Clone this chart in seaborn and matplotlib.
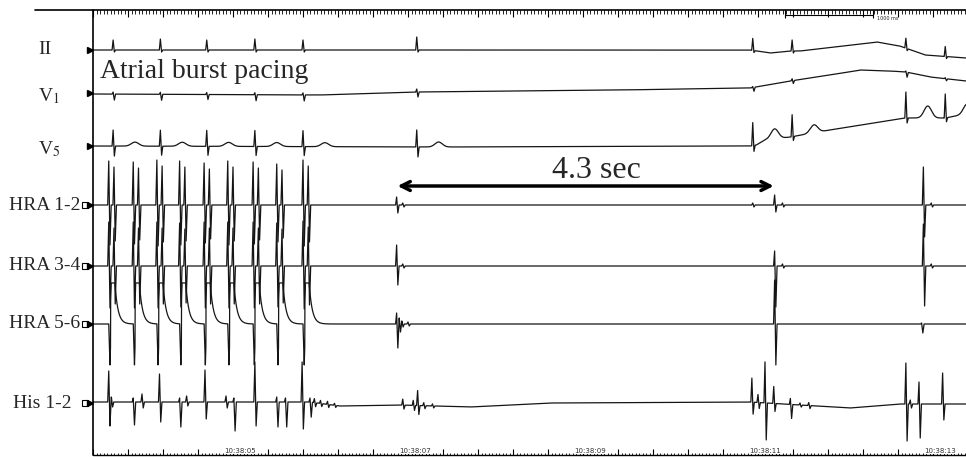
import numpy as np
import matplotlib
matplotlib.use("Agg")
import matplotlib.pyplot as plt
import seaborn as sns

# ========== DATA ==========
# times are seconds after 10:38:00, deflections in trace units (up = positive)
pace_times = [3.50, 3.78, 4.05, 4.31, 4.59, 4.86, 5.15, 5.42, 5.72]

# surface ECG beats
qrs_times = [3.55, 4.09, 4.62, 5.17, 5.72, 7.02, 10.86, 11.31, 12.61, 13.06]
ii_r = [10, 11, 10, 11, 10, 13, 12, 11, 10, 10]
ii_s = [2, 2, 2, 2, 2, 2, 2, 2, 2, 2]
v1_r = [2, 2, 2, 2, 2, 3, 1, 2, 1, 1]
v1_s = [6, 6, 5, 6, 6, 5, 4, 3, 5, 2]
v5_r = [16, 16, 16, 16, 16, 17, 23, 22, 26, 24]
v5_s = [10, 9, 9, 9, 9, 10, 6, 4, 5, 4]
v5_t = [4, 4, 4, 4, 4, 5, 10, 8, 12, 10]

# baseline drift (knot times, offsets)
ii_drift_t = [3.32, 10.83, 11.06, 11.29, 11.40, 12.28, 12.54, 12.83, 13.30]
ii_drift = [0, 0, -3, -1, -1, 8, 4, -5, -8]
v1_drift_t = [3.32, 5.91, 7.03, 9.34, 10.83, 11.29, 11.74, 12.09, 12.43, 12.61, 12.89, 13.30]
v1_drift = [-1, -2, 1, 3, 5, 12, 18, 23, 22, 21, 16, 12]
v5_drift_t = [3.32, 7.29, 10.83, 10.90, 11.00, 11.29, 11.74, 12.60, 13.06, 13.30]
v5_drift = [0, -1, 0, 1, 6, 9, 16, 28, 28, 32]
his_drift_t = [3.32, 5.80, 6.14, 6.83, 7.63, 8.54, 10.83, 11.40, 11.97, 12.54, 13.30]
his_drift = [1, 1, -3, -2, -4, 0, 1, -2, -5, -1, -1]

# intracardiac: pacing artefact + local electrogram per stimulus
hra12_pace = [44, 43, 45, 44, 42, 44, 43, 41, 45]
hra34_pace = [44, 44, 44, 43, 44, 44, 44, 43, 45]
hra56_pulse = [41, 41, 41, 41, 41, 41, 41, 41, 41]
hra56_stim = [41, 41, 41, 41, 41, 41, 41, 41, 41]

# intracardiac spontaneous / post-pacing deflections
hra12_t = [6.79, 6.86, 10.86, 11.11, 11.20, 12.81, 12.90]
hra12_up = [8, 2, 2, 10, 2, 38, 2]
hra12_dn = [8, 2, 2, 7, 2, 32, 2]
hra34_t = [6.79, 6.86, 11.11, 11.20, 12.81, 12.90]
hra34_up = [21, 2, 15, 2, 42, 2]
hra34_dn = [19, 2, 41, 2, 40, 2]
hra56_t = [6.79, 6.82, 6.85, 6.92, 11.11, 12.79]
hra56_up = [11, 6, 3, 2, 44, 1]
hra56_dn = [24, 8, 3, 2, 41, 9]
his_t = [3.50, 3.53, 3.78, 3.88, 4.08, 4.31, 4.39, 4.60, 4.84, 4.93, 5.17, 5.42,
         5.52, 5.71, 5.80, 5.85, 5.92, 6.00, 6.08, 6.86, 6.98, 7.03, 7.10, 7.20,
         10.85, 10.92, 11.00, 11.10, 11.29, 11.40, 11.50, 12.61, 12.66, 12.76, 13.03]
his_up = [31, 5, 4, 8, 28, 4, 6, 32, 6, 4, 40, 5,
          4, 40, 4, 4, 3, 3, 2, 6, 5, 15, 3, 2,
          24, 8, 41, 17, 6, 2, 3, 41, 4, 22, 31]
his_dn = [24, 5, 23, 6, 20, 25, 4, 17, 6, 29, 24, 25,
          25, 27, 15, 4, 3, 3, 2, 4, 5, 9, 3, 2,
          12, 6, 37, 8, 14, 2, 3, 37, 4, 34, 16]

channels = ["II", "V$_1$", "V$_5$", "HRA 1-2", "HRA 3-4", "HRA 5-6", "His 1-2"]
baselines = [50, 93, 146, 205, 266, 324, 403]   # pixel rows of each trace

pause_start, pause_len = 6.80, 4.3

# ========== SIGNAL HELPERS ==========
t = np.arange(3.32, 13.30, 0.002)


def spikes(times, up, dn):
    out = np.zeros_like(t)
    for t0, a, b in zip(times, up, dn):
        out += np.interp(t, [t0 - 0.012, t0, t0 + 0.014, t0 + 0.028], [0, a, -b, 0], left=0, right=0)
    return out


def bumps(times, h, lag=0.25, w=0.06):
    out = np.zeros_like(t)
    for t0, a in zip(times, h):
        out += a * np.exp(-((t - t0 - lag) / w) ** 2)
    return out


def pulses(times, h, plat=0.05, tau=0.035):
    out = np.zeros_like(t)
    for t0, a in zip(times, h):
        dt = t - t0 - 0.02
        out += np.where(dt < 0, 0, np.where(dt < plat, a, a * np.exp(-(dt - plat) / tau)))
    return out


n = len(pace_times)
egm_times = [p + 0.06 for p in pace_times]
traces = [
    np.interp(t, ii_drift_t, ii_drift) + spikes(qrs_times, ii_r, ii_s),
    np.interp(t, v1_drift_t, v1_drift) + spikes(qrs_times, v1_r, v1_s),
    np.interp(t, v5_drift_t, v5_drift) + spikes(qrs_times, v5_r, v5_s) + bumps(qrs_times, v5_t),
    spikes(pace_times, hra12_pace, [p - 4 for p in hra12_pace])
    + spikes(egm_times, [p - 6 for p in hra12_pace], [p - 8 for p in hra12_pace])
    + spikes(hra12_t, hra12_up, hra12_dn),
    spikes(pace_times, hra34_pace, [p - 2 for p in hra34_pace])
    + spikes(egm_times, [p - 6 for p in hra34_pace], [p - 6 for p in hra34_pace])
    + spikes(hra34_t, hra34_up, hra34_dn),
    spikes(pace_times, [0] * n, hra56_stim) + pulses(pace_times, hra56_pulse)
    + spikes(hra56_t, hra56_up, hra56_dn),
    np.interp(t, his_drift_t, his_drift) + spikes(his_t, his_up, his_dn),
]

# ========== PLOT ==========
sns.set_theme(style="white")
plt.rcParams["font.family"] = ["Liberation Serif", "DejaVu Serif"]
plt.rcParams["mathtext.fontset"] = "stix"

W, H = 966, 457
fig = plt.figure(figsize=(W / 100, H / 100), dpi=100)
ax = fig.add_axes([0, 0, 1, 1])
t_left, px_per_s = 5 - 240 / 87.5, 87.5
ax.set_xlim(t_left, t_left + W / px_per_s)
ax.set_ylim(H, 0)
ax.axis("off")


def px(x):
    return t_left + x / px_per_s


for base, sig in zip(baselines, traces):
    sns.lineplot(x=t, y=base - sig, ax=ax, color="#151515", lw=0.9,
                 estimator=None, sort=False)

# channel labels and input markers
for i, (name, base) in enumerate(zip(channels, baselines)):
    if i < 3:
        ax.text(px(38), base + (0 if i == 0 else 3), name, fontsize=14, ha="left", va="center")
        ax.plot(px(90), base, marker=">", ms=5, color="black")
    else:
        ax.text(px(80 if i < 6 else 72), base, name, fontsize=14, ha="right", va="center")
        ax.plot(px(85), base, marker="s", ms=4, mfc="white", mec="black", mew=0.8)
        ax.plot(px(90), base, marker=">", ms=5, color="black")

# frame: left axis and time rulers
ax.plot([px(93), px(93)], [10, 455], color="black", lw=1.2)
ax.plot([px(35), px(W)], [10, 10], color="black", lw=1.2)
ax.plot([px(93), px(W)], [455, 455], color="black", lw=1.0)
minor = np.arange(3.32, 13.30, 0.04)
major = np.arange(3.32, 13.30, 0.4)
ax.vlines(minor, 10, 14, color="black", lw=0.6)
ax.vlines(major, 10, 17, color="black", lw=0.8)
ax.vlines(minor, 453, 455, color="black", lw=0.6)
ax.vlines(major, 449, 455, color="black", lw=0.8)
for sec in [5, 7, 9, 11, 13]:
    ax.text(sec, 451, f"10:38:{sec:02d}", fontsize=5, ha="center", va="center",
            family="DejaVu Sans", color="#333333",
            bbox=dict(fc="white", ec="none", pad=0.3))

# 1000 ms calibration bracket
cal0 = px(785)
ax.plot([cal0, cal0 + 1.0], [15, 15], color="black", lw=0.8)
ax.vlines([cal0, cal0 + 1.0], 10, 18, color="black", lw=0.8)
ax.text(cal0 + 1.05, 18, "1000 ms", fontsize=3.5, family="DejaVu Sans", va="center")

# annotations
ax.text(px(100), 72, "Atrial burst pacing", fontsize=20, ha="left", va="center")
ax.annotate("", xy=(pause_start + pause_len, 186), xytext=(pause_start, 186),
            arrowprops=dict(arrowstyle="<->", lw=2.5, color="black", mutation_scale=16,
                            shrinkA=0, shrinkB=0))
ax.text(px(596), 171, f"{pause_len} sec", fontsize=23, ha="center", va="center")

fig.savefig("out.png", dpi=100)
